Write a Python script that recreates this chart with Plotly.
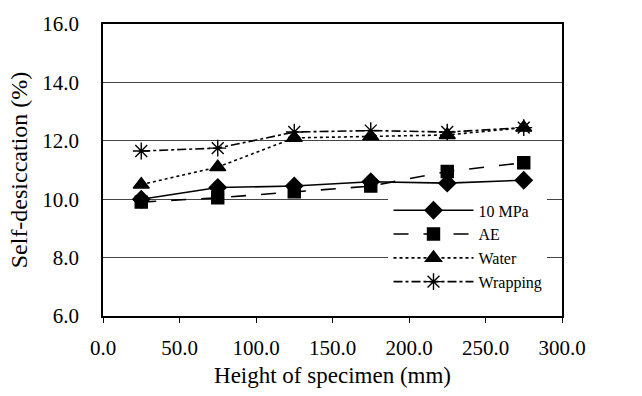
import plotly.graph_objects as go

heights = [25, 75, 125, 175, 225, 275]
mpa10 = [10.0, 10.4, 10.45, 10.6, 10.55, 10.65]
ae = [9.9, 10.05, 10.25, 10.45, 10.95, 11.25]
water = [10.5, 11.1, 12.1, 12.15, 12.2, 12.45]
wrapping = [11.65, 11.75, 12.3, 12.35, 12.3, 12.45]

series = [
    ("10 MPa", mpa10, "solid", "diamond", 13),
    ("AE", ae, "longdash", "square", 12),
    ("Water", water, "dot", "triangle-up", 14),
    ("Wrapping", wrapping, "dashdot", "asterisk-open", 14),
]

font = "Liberation Serif"

fig = go.Figure()
for name, vals, dash, sym, size in series:
    fig.add_trace(go.Scatter(
        x=heights, y=vals, name=name, mode="lines+markers",
        line=dict(color="black", width=1.6, dash=dash),
        marker=dict(symbol=sym, size=size, color="black",
                    line=dict(color="black", width=1.4)),
    ))

fig.update_layout(
    width=642, height=396,
    margin=dict(l=103, r=80, t=20, b=79),
    paper_bgcolor="white", plot_bgcolor="white",
    font=dict(family=font, color="black", size=21),
    showlegend=True,
    legend=dict(x=0.622, y=0.42, xanchor="left", yanchor="top",
                bgcolor="white", font=dict(size=16, family=font, color="black"),
                tracegroupgap=0, itemwidth=80),
)
fig.update_xaxes(
    range=[0, 300], dtick=50, tickformat=".1f",
    showline=True, linecolor="black", linewidth=1.5, mirror=True,
    ticks="outside", ticklen=5, tickcolor="black",
    ticklabelstandoff=7,
    showgrid=False, zeroline=False,
    title=dict(text="Height of specimen (mm)", standoff=8,
               font=dict(family=font, size=23, color="black")),
    tickfont=dict(family=font, size=21, color="black"),
)
fig.update_yaxes(
    range=[6, 16], dtick=2, tickformat=".1f",
    showline=True, linecolor="black", linewidth=1.5, mirror=True,
    ticks="outside", ticklen=18, tickcolor="white",
    showgrid=True, gridcolor="#444", gridwidth=1,
    zeroline=False,
    title=dict(text="Self-desiccation (%)", standoff=8,
               font=dict(family=font, size=24, color="black")),
    tickfont=dict(family=font, size=21, color="black"),
)

fig.write_html("out.html")
